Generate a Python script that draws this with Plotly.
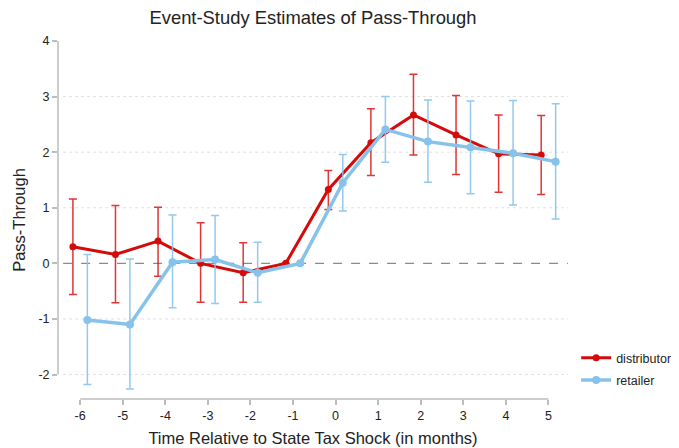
import plotly.graph_objects as go

periods = [-6, -5, -4, -3, -2, -1, 0, 1, 2, 3, 4, 5]
x_ticktext = ["-6", "-5", "-4", "-3", "-2", "-1", "0", "1", "2", "3", "4", "5"]

dist_est = [0.30, 0.16, 0.40, 0.00, -0.17, 0.00, 1.33, 2.17, 2.67, 2.31, 1.97, 1.95]
dist_hi = [1.16, 1.04, 1.01, 0.73, 0.37, None, 1.67, 2.78, 3.40, 3.02, 2.67, 2.66]
dist_lo = [-0.56, -0.71, -0.23, -0.70, -0.70, None, 0.97, 1.58, 1.95, 1.60, 1.28, 1.24]

ret_est = [-1.02, -1.10, 0.02, 0.07, -0.17, 0.00, 1.45, 2.41, 2.19, 2.09, 1.98, 1.83]
ret_hi = [0.16, 0.08, 0.87, 0.86, 0.38, None, 1.96, 3.00, 2.94, 2.92, 2.93, 2.87]
ret_lo = [-2.18, -2.26, -0.80, -0.72, -0.70, None, 0.94, 1.82, 1.46, 1.25, 1.05, 0.80]

y_ticks = [-2, -1, 0, 1, 2, 3, 4]
y_ticktext = ["-2", "-1", "0", "1", "2", "3", "4"]
grid_vals = [-2, -1, 1, 2, 3]

DIST_COLOR = "#d40b0b"
RET_COLOR = "#86c2ea"
OFFSET = 0.17


def err(est, hi, lo):
    plus = [0 if h is None else h - e for e, h in zip(est, hi)]
    minus = [0 if l is None else e - l for e, l in zip(est, lo)]
    return plus, minus


fig = go.Figure()

dp, dm = err(dist_est, dist_hi, dist_lo)
rp, rm = err(ret_est, ret_hi, ret_lo)

fig.add_trace(go.Scatter(
    x=[p - OFFSET for p in periods], y=dist_est, name="distributor",
    legendgroup="d", mode="lines+markers",
    line=dict(color=DIST_COLOR, width=3),
    marker=dict(color=DIST_COLOR, size=7),
    error_y=dict(type="data", symmetric=False, array=dp, arrayminus=dm,
                 color="rgba(215,20,20,0.85)", thickness=1.5, width=4),
))
fig.add_trace(go.Scatter(
    x=[p + OFFSET for p in periods], y=ret_est, name="retailer",
    legendgroup="r", mode="lines+markers",
    line=dict(color=RET_COLOR, width=3.5),
    marker=dict(color=RET_COLOR, size=8),
    error_y=dict(type="data", symmetric=False, array=rp, arrayminus=rm,
                 color="rgba(135,195,235,0.9)", thickness=1.5, width=4),
))

shapes = []
for g in grid_vals:
    shapes.append(dict(type="line", xref="paper", yref="y", x0=0.01, x1=1, y0=g, y1=g,
                       line=dict(color="#e0e0e0", width=1, dash="dot"), layer="below"))
shapes.append(dict(type="line", xref="paper", yref="y", x0=0.01, x1=1, y0=0, y1=0,
                   line=dict(color="#8a8a8a", width=1.3, dash="dash"), layer="below"))
shapes.append(dict(type="line", xref="paper", yref="y", x0=0, x1=0, y0=-2, y1=4,
                   line=dict(color="#bdbdbd", width=1.5)))
shapes.append(dict(type="line", xref="x", yref="paper", x0=-6, x1=5, y0=0, y1=0,
                   line=dict(color="#bdbdbd", width=1.5)))

fig.update_layout(
    width=671, height=440,
    margin=dict(l=50, r=111, t=33, b=49, autoexpand=False),
    paper_bgcolor="white", plot_bgcolor="white",
    font=dict(family="Liberation Sans, Arial, sans-serif", color="#222222", size=12),
    title=dict(text="Event-Study Estimates of Pass-Through", x=0.5, xref="paper",
               y=0.978, yref="container", yanchor="middle",
               font=dict(size=18.4, color="#222222")),
    shapes=shapes,
    legend=dict(x=1.016, y=0.156, xanchor="left", yanchor="top",
                font=dict(size=12.5), tracegroupgap=3, itemwidth=30,
                bgcolor="rgba(0,0,0,0)"),
)
fig.update_xaxes(range=[-6.52, 5.46], tickvals=periods, ticktext=x_ticktext,
                 showgrid=False, zeroline=False, automargin=False,
                 showline=False, ticks="outside", ticklen=5, tickcolor="#bdbdbd", tickwidth=1.5,
                 tickfont=dict(size=12.5, color="#222222"),
                 title=dict(text="Time Relative to State Tax Shock (in months)",
                            font=dict(size=16.5, color="#222222"), standoff=10))
fig.update_yaxes(range=[-2.44, 4.0], tickvals=y_ticks, ticktext=y_ticktext,
                 showgrid=False, zeroline=False, automargin=False,
                 showline=False, ticks="outside", ticklen=5, tickcolor="#bdbdbd", tickwidth=1.5,
                 tickfont=dict(size=12.5, color="#222222"),
                 title=dict(text="Pass-Through", font=dict(size=16.5, color="#222222"), standoff=8))

fig.write_html("out.html")
